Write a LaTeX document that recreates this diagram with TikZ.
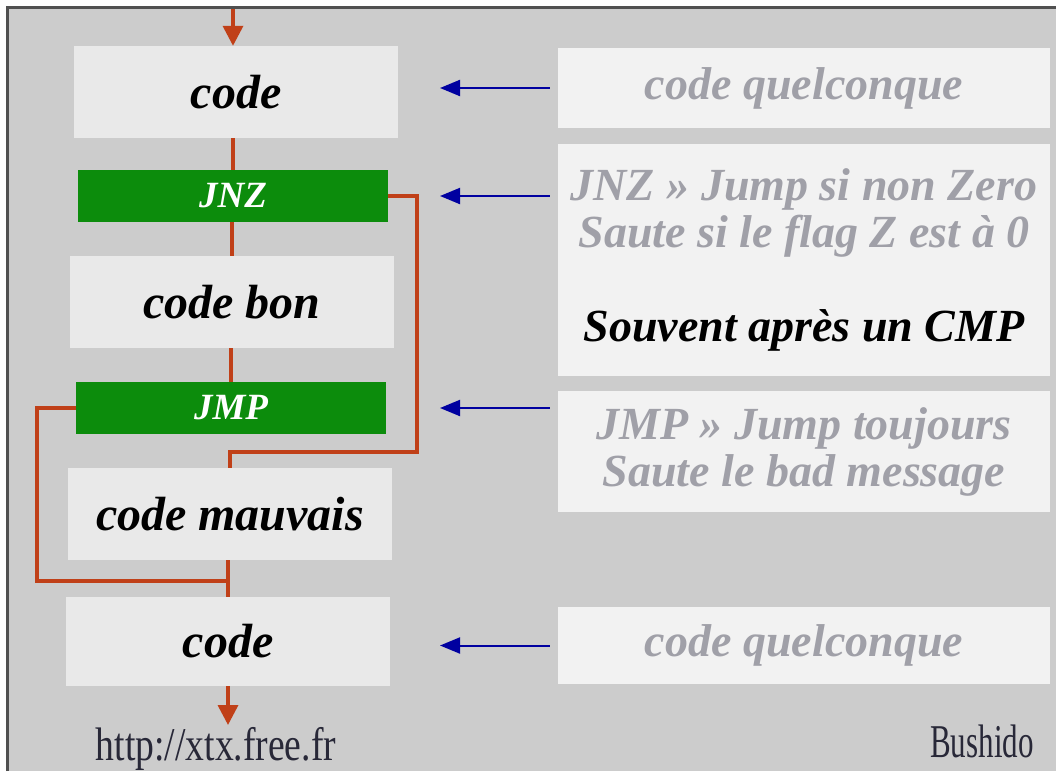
\documentclass[tikz,border=0pt]{standalone}
\usepackage{fontspec}
\setmainfont{Liberation Serif}
\usetikzlibrary{arrows.meta,calc}
\definecolor{bgC}{RGB}{204,204,204}
\definecolor{frameC}{RGB}{80,80,80}
\definecolor{lboxC}{RGB}{233,233,233}
\definecolor{rboxC}{RGB}{242,242,242}
\definecolor{greenC}{RGB}{12,140,12}
\definecolor{redC}{RGB}{192,64,24}
\definecolor{blueC}{RGB}{0,0,160}
\definecolor{grayT}{RGB}{160,160,168}
\definecolor{footT}{RGB}{40,40,56}
\tikzset{
  leftbox/.style={fill=lboxC, inner sep=0pt, minimum width=324pt, minimum height=92pt,
    font=\fontsize{48}{50}\selectfont\bfseries\itshape, text=black},
  opbox/.style={fill=greenC, inner sep=0pt, minimum width=310pt, minimum height=52pt,
    font=\fontsize{37}{39}\selectfont\bfseries\itshape, text=white},
  rightbox/.style={fill=rboxC, inner sep=0pt, minimum width=492pt, align=center,
    font=\fontsize{46}{47}\selectfont\bfseries\itshape, text=grayT},
  flow/.style={draw=redC, line width=3.5pt},
  flowarrow/.style={flow, -{Triangle[length=20pt,width=20pt]}},
  notearrow/.style={draw=blueC, line width=2pt, -{Triangle[length=20pt,width=16pt]}, shorten <=8pt},
  foot/.style={inner sep=0pt, anchor=base, text=footT, font=\fontsize{47}{49}\selectfont}
}
\begin{document}
\begin{tikzpicture}[x=1pt,y=-1pt]
\useasboundingbox (0,0) rectangle (1056,771);
\fill[white] (0,0) rectangle (1056,771);
\fill[bgC] (7.5,7.5) rectangle (1056,771);
\draw[frameC, line width=3pt] (7.5,771) -- (7.5,7.5) -- (1056,7.5);

% left column
\node[leftbox] (c1) at (236,92) {code};
\node[opbox] (jnz) at (233,196) {JNZ};
\node[leftbox] (bon) at (232,302) {code bon};
\node[opbox] (jmp) at (231,408) {JMP};
\node[leftbox] (mauvais) at (230,514) {code mauvais};
\node[leftbox, minimum height=89pt] (c2) at (228,641.5) {code};

% right column
\node[rightbox, minimum height=80pt] (r1) at (804,88) {code quelconque};
\node[rightbox, minimum height=232pt] (r2) at (804,260)
  {JNZ » Jump si non Zero\\Saute si le flag Z est à 0\\[47pt]{\color{black}Souvent après un CMP}};
\node[rightbox, minimum height=121pt] (r3) at (804,451.5)
  {JMP » Jump toujours\\Saute le bad message};
\node[rightbox, minimum height=77pt] (r4) at (804,645.5) {code quelconque};

% footer
\node[foot, xscale=0.8] (url) at (216,760) {http://xtx.free.fr};
\node[foot, xscale=0.66] (author) at (982,757) {Bushido};

% coordinates
\coordinate (in) at (233,9);
\coordinate (out) at (229,725);
\coordinate (k1) at (417,452);
\coordinate (k2) at (37,581);
\coordinate (tip) at (440,0);

% red flow
\draw[flowarrow] (in) -- (in |- c1.north);
\draw[flow] (jnz.north |- c1.south) -- (jnz.north);
\draw[flow] (bon.north |- jnz.south) -- (bon.north);
\draw[flow] (jmp.north |- bon.south) -- (jmp.north);
\draw[flow] (jnz.east) -| (k1) -| (mauvais.north);
\draw[flow] (jmp.west) -| (k2) -| (c2.north);
\draw[flow] (c2.north |- mauvais.south) -- (c2.north);
\draw[flowarrow] (c2.south) -- (c2.south |- out);

% blue notes
\draw[notearrow] (r1.west) -- (r1.west -| tip);
\draw[notearrow] (jnz.east -| r2.west) -- (jnz.east -| tip);
\draw[notearrow] (jmp.east -| r3.west) -- (jmp.east -| tip);
\draw[notearrow] (r4.west) -- (r4.west -| tip);
\end{tikzpicture}
\end{document}
